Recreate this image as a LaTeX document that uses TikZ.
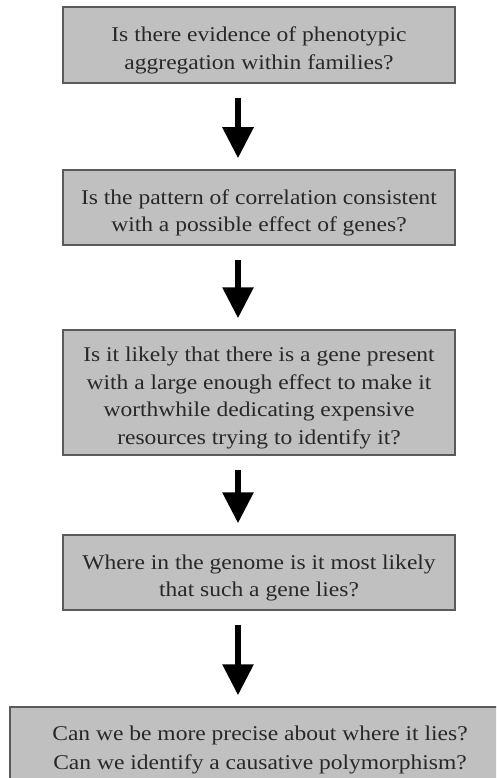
\documentclass[tikz,border=0pt]{standalone}
\usepackage{fontspec}
\setmainfont{Liberation Serif}[FakeStretch=1.12]
\usepackage{tikz}
\usetikzlibrary{arrows.meta, positioning}
\definecolor{boxgray}{RGB}{192, 192, 192}
\definecolor{edgegray}{RGB}{90, 90, 90}
\definecolor{inkgray}{RGB}{40, 40, 40}
\newcommand{\dropline}{\rule{0pt}{26pt}}

\begin{document}
\begin{tikzpicture}[x=1pt, y=-1pt,
    qbox/.style={draw=edgegray, line width=1.5pt, fill=boxgray, align=center,
        minimum width=392pt, inner sep=0pt, text=inkgray,
        font=\fontsize{21}{27.5}\selectfont},
    flow/.style={line width=6pt, -{Triangle[width=30pt, length=31pt]},
        shorten <=14pt, shorten >=11pt}]
\useasboundingbox (0,0) rectangle (496,778);
\clip (0,0) rectangle (496,778);

% Question boxes
\node[qbox, minimum height=76pt] (evid) at (259,45)
    {\dropline Is there evidence of phenotypic\\aggregation within families?};
\node[qbox, minimum height=75pt] (corr) at (259,207.5)
    {\dropline Is the pattern of correlation consistent\\with a possible effect of genes?};
\node[qbox, minimum height=125pt] (gene) at (259,392.5)
    {\dropline Is it likely that there is a gene present\\with a large enough effect to make it\\worthwhile dedicating expensive\\resources trying to identify it?};
\node[qbox, minimum height=75pt] (where) at (259,572.5)
    {\dropline Where in the genome is it most likely\\that such a gene lies?};
\node[qbox, minimum width=500pt, minimum height=86pt,
    font=\fontsize{21}{28.5}\selectfont] (precise) at (260,750)
    {Can we be more precise about where it lies?\\Can we identify a causative polymorphism?};

% Arrows between steps
\draw[flow] ([xshift=-21pt]evid.south) -- ([xshift=-21pt]corr.north);
\draw[flow] ([xshift=-21pt]corr.south) -- ([xshift=-21pt]gene.north);
\draw[flow] ([xshift=-21pt]gene.south) -- ([xshift=-21pt]where.north);
\draw[flow] ([xshift=-21pt]where.south) -- ([xshift=-22pt]precise.north);
\end{tikzpicture}
\end{document}
